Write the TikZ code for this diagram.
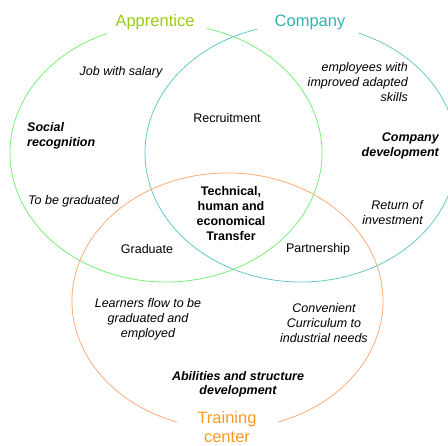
\documentclass[tikz,border=0pt]{standalone}
\usepackage{fontspec}
\setmainfont{Liberation Sans}
\definecolor{appr}{HTML}{99CC11}
\definecolor{comp}{HTML}{33B3B3}
\definecolor{train}{HTML}{FF9922}
\definecolor{gline}{HTML}{77EE77}
\definecolor{cline}{HTML}{66C8C8}
\definecolor{oline}{HTML}{FFAA77}
\tikzset{
  lbl/.style={inner sep=0pt, font=\fontsize{12.5}{15}\selectfont},
  it/.style={lbl, font=\fontsize{12.5}{15}\selectfont\itshape},
  bi/.style={lbl, font=\fontsize{12.5}{15}\selectfont\bfseries\itshape},
  bd/.style={lbl, font=\fontsize{12.5}{15}\selectfont\bfseries},
  big/.style={inner sep=0pt, font=\fontsize{16.5}{19}\selectfont},
  ring/.style={line width=0.8pt}
}
\begin{document}
\begin{tikzpicture}[x=1pt,y=1pt]
\useasboundingbox (0,0) rectangle (448,446);
\clip (0,0) rectangle (448,446);
% circles
\draw[ring, gline] (166,293) ++(112.2:156pt and 129pt) arc[start angle=112.2, end angle=434.8, x radius=156pt, y radius=129pt];
\draw[ring, cline] (301,293) ++(106.4:156pt and 129pt) arc[start angle=106.4, end angle=428.2, x radius=156pt, y radius=129pt];
\draw[ring, oline] (227.5,145) ++(-71.1:155.5pt and 128pt) arc[start angle=-71.1, end angle=251.1, x radius=155.5pt, y radius=128pt];
% titles
\node[big, text=appr] (apprentice) at (155,424) {Apprentice};
\node[big, text=comp] (company) at (310,424) {Company};
\node[big, text=train, align=center] (training) at (227,18.5) {Training\\center};
% labels
\node[it] (job) at (121,374) {Job with salary};
\node[lbl] (recruit) at (227,328) {Recruitment};
\node[it, anchor=east, align=right] (employees) at (408,364) {employees with\\improved adapted\\skills};
\node[bi, anchor=east, align=right] (compdev) at (439,300.5) {Company\\development};
\node[bi, anchor=west, align=left] (social) at (27,310.5) {Social\\recognition};
\node[it, anchor=west] (tobe) at (28,245) {To be graduated};
\node[lbl] (graduate) at (147,197) {Graduate};
\node[bd, align=center] (transfer) at (231,232) {Technical,\\human and\\economical\\Transfer};
\node[lbl] (partner) at (318,197) {Partnership};
\node[it, anchor=east, align=right] (return) at (423,233.5) {Return of\\investment};
\node[it, align=center] (learners) at (148,127) {Learners flow to be\\graduated and\\employed};
\node[it, align=center] (convenient) at (324,123) {Convenient\\Curriculum to\\industrial needs};
\node[bi, align=center, font=\fontsize{12.5}{14}\selectfont\bfseries\itshape] (abilities) at (238,62) {Abilities and structure\\development};
\end{tikzpicture}
\end{document}
